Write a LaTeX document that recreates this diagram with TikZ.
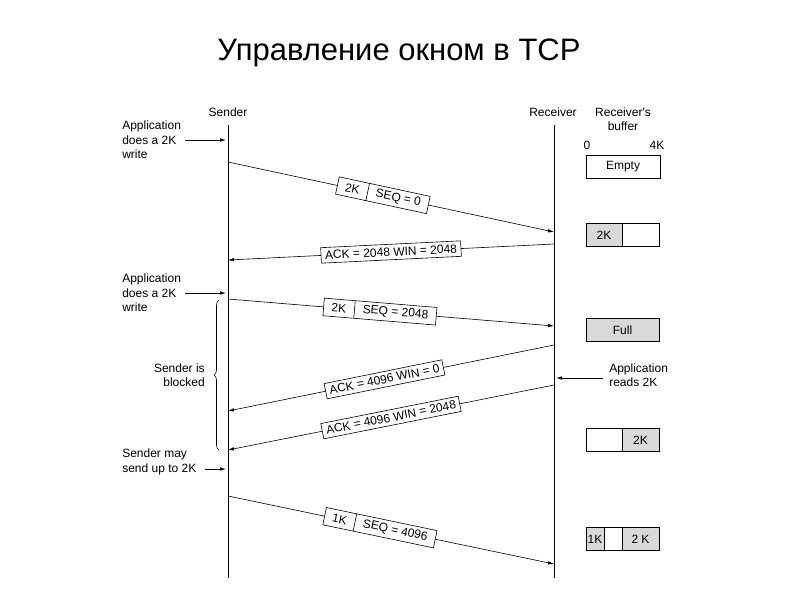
\documentclass[tikz,border=0pt]{standalone}
\usepackage{fontspec}
\setmainfont{Liberation Sans}
\usetikzlibrary{positioning}
\usetikzlibrary{arrows.meta}
\usetikzlibrary{shapes.multipart}
\usetikzlibrary{decorations.pathreplacing}
\definecolor{bgray}{gray}{0.85}
\tikzset{lbl/.style = {font=\fontsize{12}{14.5}\selectfont, inner sep=0pt}}
\tikzset{msg/.style = {-{Latex[length=6pt,width=3.5pt]}}}
\tikzset{note/.style = {-{Latex[length=6pt,width=3.5pt]}}}
\tikzset{pkt/.style = {draw, fill=white, rectangle split, rectangle split horizontal,
                       rectangle split parts=2, inner xsep=8pt, inner ysep=3.5pt,
                       font=\fontsize{12}{14}\selectfont}}
\tikzset{ack/.style = {draw, fill=white, inner xsep=4pt, inner ysep=3.5pt,
                       font=\fontsize{12}{14}\selectfont}}
\tikzset{buf/.style = {draw, minimum height=23pt, inner sep=0pt, outer sep=0pt,
                       font=\fontsize{12}{14}\selectfont}}
\tikzset{every picture/.style={
    every path/.style={line width=0.6pt},
}}
\begin{document}
\begin{tikzpicture}[x=1pt, y=-1pt]

      \useasboundingbox (0,0) rectangle (800,600);

      \node[font=\fontsize{31}{33}\selectfont] (title) at (399,53) {Управление окном в TCP};

      % time lines
      \coordinate (sTop) at (228,125);
      \coordinate (sBot) at (228,578);
      \coordinate (rTop) at (554,125);
      \coordinate (rBot) at (554,578);
      \draw (sTop) -- (sBot);
      \draw (rTop) -- (rBot);

      \node[lbl] (sender) at (228,112) {Sender};
      \node[lbl] (receiver) at (553,112) {Receiver};
      \node[lbl, align=center] (rbuf) at (623,119) {Receiver\textquotesingle s\\buffer};
      \node[lbl] (zero) at (587,145) {0};
      \node[lbl] (fourk) at (657,145) {4K};

      % segments
      \coordinate (s1) at (228,162);
      \coordinate (r1) at (554,232);
      \draw[msg] (s1) -- node[pkt, sloped, pos=0.475] (p1) {2K \nodepart{two} SEQ = 0} (r1);

      \coordinate (r2) at (554,244);
      \coordinate (s2) at (228,260);
      \draw[msg] (r2) -- node[ack, sloped, pos=0.5] (a2) {ACK = 2048 WIN = 2048} (s2);

      \coordinate (s3) at (228,299);
      \coordinate (r3) at (554,326);
      \draw[msg] (s3) -- node[pkt, sloped, pos=0.466] (p3) {2K \nodepart{two} SEQ = 2048} (r3);

      \coordinate (r4) at (554,345);
      \coordinate (s4) at (228,411);
      \draw[msg] (r4) -- node[ack, sloped, pos=0.52] (a4) {ACK = 4096 WIN = 0} (s4);

      \coordinate (r5) at (554,385);
      \coordinate (s5) at (228,450);
      \draw[msg] (r5) -- node[ack, sloped, pos=0.5] (a5) {ACK = 4096 WIN = 2048} (s5);

      \coordinate (s6) at (228,496);
      \coordinate (r6) at (554,564);
      \draw[msg] (s6) -- node[pkt, sloped, pos=0.466] (p6) {1K \nodepart{two} SEQ = 4096} (r6);

      % notes on the sender side
      \node[lbl, align=left, anchor=west] (app1) at (122,140) {Application\\does a 2K\\write};
      \coordinate (w1) at (226,140);
      \draw[note] ([xshift=4pt]app1.east) -- (w1);

      \node[lbl, align=left, anchor=west] (app2) at (122,293) {Application\\does a 2K\\write};
      \coordinate (w2) at (226,293);
      \draw[note] ([xshift=4pt]app2.east) -- (w2);

      \node[lbl, align=right, anchor=east] (blocked) at (205,375) {Sender is\\blocked};
      \draw[decorate, decoration={brace, amplitude=5pt}] (219,450) -- (219,300);

      \node[lbl, align=left, anchor=west] (may) at (122,462) {Sender may\\send up to 2K};
      \coordinate (m1) at (205,469);
      \coordinate (m2) at (226,469);
      \draw[note] (m1) -- (m2);

      % note on the receiver side
      \node[lbl, align=left, anchor=west] (reads) at (609,375) {Application\\reads 2K};
      \coordinate (rd1) at (603,378);
      \coordinate (rd2) at (556,378);
      \draw[note] (rd1) -- (rd2);

      % receiver's buffer
      \node[buf, minimum width=74pt] (bEmpty) at (623,167) {Empty};

      \node[buf, fill=bgray, minimum width=36pt, anchor=west] (b2a) at (586,235) {2K};
      \node[buf, minimum width=37pt, right=0pt of b2a] (b2b) {};

      \node[buf, fill=bgray, minimum width=73pt] (bFull) at (622.5,330) {Full};

      \node[buf, minimum width=36pt, anchor=west] (b4a) at (586,440) {};
      \node[buf, fill=bgray, minimum width=37pt, right=0pt of b4a] (b4b) {2K};

      \node[buf, fill=bgray, minimum width=18pt, anchor=west] (b5a) at (586,539) {1K};
      \node[buf, minimum width=18pt, right=0pt of b5a] (b5b) {};
      \node[buf, fill=bgray, minimum width=37pt, right=0pt of b5b] (b5c) {2 K};

    \end{tikzpicture}
\end{document}
